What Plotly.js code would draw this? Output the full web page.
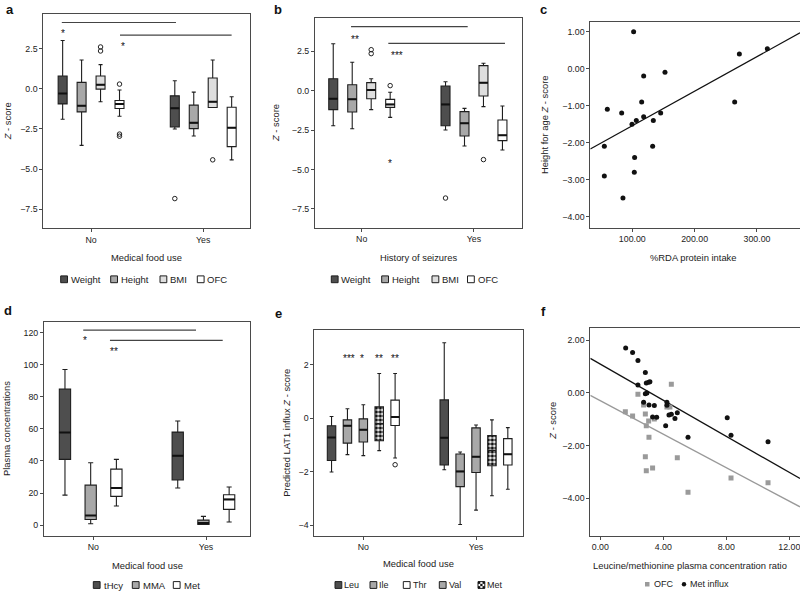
<!DOCTYPE html>
<html><head><meta charset="utf-8">
<script src="https://cdn.plot.ly/plotly-3.0.1.min.js"></script>
<style>html,body{margin:0;padding:0;background:#fff}#chart{width:800px;height:592px}</style>
</head><body><div id="chart"></div>
<script>
// ---------------- DATA ----------------
const groups = ['No', 'Yes'];

// Panel a: Z-scores by medical food use
const aSeries = ['Weight', 'Height', 'BMI', 'OFC'];
const aUpper  = [[3.00, 0.50], [1.79, -0.21], [1.50, 1.79], [-0.08, -0.50]];
const aQ3     = [[0.79, -0.44], [0.40, -1.02], [0.79, 0.67], [-0.73, -1.15]];
const aMedian = [[-0.29, -1.21], [-1.06, -2.12], [0.25, -0.81], [-0.94, -2.42]];
const aQ1     = [[-0.94, -2.38], [-1.44, -2.48], [-0.02, -1.17], [-1.23, -3.60]];
const aLower  = [[-1.90, -2.50], [-3.52, -2.94], [-0.81, -1.17], [-1.71, -4.42]];
const aOutliers = [[2, 0, 2.35], [2, 0, 2.60], [3, 0, 0.29], [3, 0, -2.82], [3, 0, -2.95], [0, 1, -6.83], [2, 1, -4.42]];

// Panel b: Z-scores by history of seizures
const bSeries = ['Weight', 'Height', 'BMI', 'OFC'];
const bUpper  = [[2.98, 0.57], [1.80, -1.12], [0.76, 1.74], [-0.10, -0.97]];
const bQ3     = [[0.76, 0.30], [0.38, -1.33], [0.51, 1.59], [-0.55, -1.86]];
const bMedian = [[-0.51, -0.87], [-0.55, -2.07], [0.04, 0.51], [-0.87, -2.83]];
const bQ1     = [[-1.20, -2.22], [-1.35, -2.87], [-0.51, -0.34], [-1.06, -3.17]];
const bLower  = [[-2.22, -2.49], [-2.41, -3.51], [-1.20, -1.01], [-1.69, -3.76]];
const bOutliers = [[2, 0, 2.35], [2, 0, 2.60], [3, 0, 0.32], [0, 1, -6.81], [2, 1, -4.37]];
const bExtremes = [[3, 0, -4.40]];

// Panel c: %RDA protein intake vs height-for-age Z-score
const cRDA = [102.1, 118.2, 152.4, 271.7, 316.6, 264.2, 115.0, 59.9, 82.9, 145.5, 106.4, 99.5, 118.2, 133.7, 55.1, 132.6, 103.7, 103.2, 55.1, 85.0];
const cHAZ = [1.00, -0.20, -0.10, 0.40, 0.54, -0.90, -0.90, -1.10, -1.20, -1.20, -1.40, -1.50, -1.30, -1.40, -2.10, -2.10, -2.40, -2.80, -2.90, -3.50];

// Panel d: plasma concentrations
const dSeries = ['tHcy', 'MMA', 'Met'];
const dUpper  = [[97.1, 64.9], [38.9, 5.4], [41.0, 23.7]];
const dQ3     = [[84.8, 58.0], [24.9, 3.1], [34.9, 18.9]];
const dMedian = [[57.8, 43.2], [6.0, 1.2], [23.1, 16.0]];
const dQ1     = [[41.0, 28.1], [3.5, 0.4], [17.9, 9.8]];
const dLower  = [[18.7, 23.1], [0.8, 0.4], [11.9, 1.9]];

// Panel e: predicted LAT1 influx Z-score (plot order)
const eSeries = ['Leu', 'Ile', 'Val', 'Met', 'Thr'];
const eLegendOrder = ['Leu', 'Ile', 'Thr', 'Val', 'Met'];
const eUpper  = [[0.07, 2.83], [0.36, -1.26], [0.51, -0.25], [1.68, -0.06], [1.68, -0.35]];
const eQ3     = [[-0.28, 0.69], [-0.06, -1.34], [-0.02, -0.36], [0.43, -0.65], [0.68, -0.76]];
const eMedian = [[-0.72, -0.73], [-0.28, -1.99], [-0.43, -1.44], [-0.20, -1.20], [0.05, -1.35]];
const eQ1     = [[-1.58, -1.75], [-0.93, -2.56], [-0.89, -2.03], [-0.84, -1.78], [-0.27, -1.75]];
const eLower  = [[-2.01, -1.93], [-1.36, -3.98], [-1.40, -3.44], [-1.21, -2.90], [-1.49, -2.66]];
const eOutliers = [[4, 0, -1.74]];

// Panel f: Leu/Met ratio vs Z-score
const fRatioMet = [1.61, 2.05, 2.39, 2.39, 2.86, 2.92, 3.07, 3.15, 2.86, 2.96, 2.75, 3.09, 3.32, 3.43, 3.58, 4.23, 4.23, 4.36, 4.51, 4.15, 4.74, 4.89, 5.57, 8.06, 8.30, 10.65];
const fMetInflux = [1.71, 1.54, 1.23, 0.30, 0.78, 0.38, 0.41, 0.43, -0.03, 0.00, -0.35, -0.46, -0.91, -0.48, -0.92, -0.35, -0.47, -0.84, -0.81, -1.24, -0.97, -0.75, -1.68, -0.94, -1.61, -1.85];
const fRatioOFC = [1.59, 2.05, 2.39, 2.75, 2.86, 2.92, 3.07, 3.09, 2.86, 2.92, 3.32, 3.43, 4.23, 4.42, 4.51, 4.89, 5.57, 8.30, 10.65];
const fOFC = [-0.71, -0.87, -0.05, -0.46, -0.80, -1.24, -1.06, -1.68, -2.42, -2.95, -2.85, -0.99, -0.53, -0.53, 0.33, -2.46, -3.77, -3.23, -3.41];

// Significance brackets [x0, x1, y] and labels [text, x, y]
const aSigLines = [[-0.261, 0.757, 4.12], [0.258, 1.253, 3.33]];
const aSigText  = [['*', -0.25, 3.63], ['*', 0.282, 2.83]];
const bSigLines = [[-0.095, 0.944, 4.06], [0.237, 1.276, 3.00]];
const bSigText  = [['**', -0.06, 3.42], ['***', 0.31, 2.43]];
const dSigLines = [[-0.089, 0.911, 121.6], [0.148, 1.148, 115.2]];
const dSigText  = [['*', -0.074, 116.8], ['**', 0.184, 110.2]];
const eSigText  = [['***', -0.124, 2.34], ['*', -0.009, 2.34], ['**', 0.142, 2.34], ['**', 0.284, 2.34]];

// ---------------- STYLE / LAYOUT HELPERS ----------------
const W = 800, H = 592;
const FONT = '"Liberation Sans", Arial, sans-serif';
const INK = '#222', FRAME = '#4a4a4a';
const DARK = '#4e4e4e', MID = '#a8a8a8', LIGHT = '#dedede', WHITE = '#ffffff';
const px = x => x / W, py = y => 1 - y / H;

const traces = [], shapes = [], annotations = [];

function boxPanel(p) {
  const medX = [], medY = [];
  p.series.forEach((name, i) => {
    const xs = groups.map((g, gi) => gi + p.offsets[i]);
    const pat = p.patterned && p.patterned[i];
    if (pat) {
      traces.push({
        type: 'bar', x: xs, base: p.q1[i], y: p.q3[i].map((v, k) => v - p.q1[i][k]),
        width: p.width, xaxis: p.xa, yaxis: p.ya,
        marker: {color: '#fff', line: {width: 0},
          pattern: {shape: '.', fgcolor: '#111', bgcolor: '#fff', size: 4, solidity: 0.6}},
        showlegend: false, hoverinfo: 'skip'
      });
    } else {
      xs.forEach((x, k) => { medX.push(x - p.width / 2, x + p.width / 2, null); medY.push(p.median[i][k], p.median[i][k], null); });
    }
    traces.push({
      type: 'box', orientation: 'v', name: name, x: xs,
      q1: p.q1[i], median: p.median[i], q3: p.q3[i],
      lowerfence: p.lower[i], upperfence: p.upper[i],
      width: p.width, whiskerwidth: 0.45,
      fillcolor: pat ? 'rgba(0,0,0,0)' : p.colors[i],
      line: {color: '#1e1e1e', width: 1.1},
      boxpoints: false, xaxis: p.xa, yaxis: p.ya, showlegend: false, hoverinfo: 'skip'
    });
  });
  traces.push({type: 'scatter', mode: 'lines', x: medX, y: medY, xaxis: p.xa, yaxis: p.ya,
    line: {color: '#111', width: 2}, showlegend: false, hoverinfo: 'skip'});
  if (p.outliers) {
    traces.push({
      type: 'scatter', mode: 'markers', xaxis: p.xa, yaxis: p.ya,
      x: p.outliers.map(o => o[1] + p.offsets[o[0]]), y: p.outliers.map(o => o[2]),
      marker: {symbol: 'circle-open', size: 4.5, color: '#222', line: {width: 1, color: '#222'}},
      showlegend: false, hoverinfo: 'skip', cliponaxis: false
    });
  }
  if (p.extremes) {
    p.extremes.forEach(o => annotations.push({
      xref: p.xa, yref: p.ya, x: o[1] + p.offsets[o[0]], y: o[2], text: '*', showarrow: false,
      yshift: -3, font: {family: FONT, size: 10, color: '#111'}
    }));
  }
  (p.sigLines || []).forEach(l => shapes.push({
    type: 'line', xref: p.xa, yref: p.ya, x0: l[0], x1: l[1], y0: l[2], y1: l[2],
    line: {color: '#444', width: 1.2}
  }));
  (p.sigText || []).forEach(t => annotations.push({
    xref: p.xa, yref: p.ya, x: t[1], y: t[2], text: t[0], showarrow: false,
    yshift: -3, font: {family: FONT, size: 10, color: '#111'}
  }));
}

const off4 = [-1.5, -0.5, 0.5, 1.5].map(k => k * 0.169);
const off3 = [-1, 0, 1].map(k => k * 0.228 - 0.023);
const off5 = [-2, -1, 0, 1, 2].map(k => k * 0.141);

boxPanel({xa: 'x', ya: 'y', series: aSeries, colors: [DARK, MID, LIGHT, WHITE],
  upper: aUpper, q3: aQ3, median: aMedian, q1: aQ1, lower: aLower,
  offsets: off4, width: 0.08, outliers: aOutliers, sigLines: aSigLines, sigText: aSigText});
boxPanel({xa: 'x2', ya: 'y2', series: bSeries, colors: [DARK, MID, LIGHT, WHITE],
  upper: bUpper, q3: bQ3, median: bMedian, q1: bQ1, lower: bLower,
  offsets: off4, width: 0.08, outliers: bOutliers, extremes: bExtremes, sigLines: bSigLines, sigText: bSigText});
boxPanel({xa: 'x4', ya: 'y4', series: dSeries, colors: [DARK, MID, WHITE],
  upper: dUpper, q3: dQ3, median: dMedian, q1: dQ1, lower: dLower,
  offsets: off3, width: 0.1, sigLines: dSigLines, sigText: dSigText});
boxPanel({xa: 'x5', ya: 'y5', series: eSeries, colors: [DARK, MID, MID, WHITE, WHITE],
  patterned: [false, false, false, true, false],
  upper: eUpper, q3: eQ3, median: eMedian, q1: eQ1, lower: eLower,
  offsets: off5, width: 0.075, outliers: eOutliers, sigText: eSigText});

// least-squares line helper
function ols(xs, ys) {
  const n = xs.length, mx = xs.reduce((a, b) => a + b) / n, my = ys.reduce((a, b) => a + b) / n;
  let sxy = 0, sxx = 0;
  xs.forEach((x, i) => { sxy += (x - mx) * (ys[i] - my); sxx += (x - mx) * (x - mx); });
  const b = sxy / sxx; return {b: b, a: my - b * mx};
}

// Panel c
const cRange = [32.6, 369];
const cFit = ols(cRDA, cHAZ);
traces.push({type: 'scatter', mode: 'lines', x: cRange, y: cRange.map(x => cFit.a + cFit.b * x),
  xaxis: 'x3', yaxis: 'y3', line: {color: '#111', width: 1.2}, showlegend: false, hoverinfo: 'skip'});
traces.push({type: 'scatter', mode: 'markers', x: cRDA, y: cHAZ, xaxis: 'x3', yaxis: 'y3',
  marker: {color: '#111', size: 5}, showlegend: false, hoverinfo: 'skip'});

// Panel f
const fRange = [-0.635, 12.68];
const fFitMet = ols(fRatioMet, fMetInflux), fFitOFC = ols(fRatioOFC, fOFC);
traces.push({type: 'scatter', mode: 'lines', x: fRange, y: fRange.map(x => fFitOFC.a + fFitOFC.b * x),
  xaxis: 'x6', yaxis: 'y6', line: {color: '#999', width: 1.3}, showlegend: false, hoverinfo: 'skip'});
traces.push({type: 'scatter', mode: 'lines', x: fRange, y: fRange.map(x => fFitMet.a + fFitMet.b * x),
  xaxis: 'x6', yaxis: 'y6', line: {color: '#111', width: 1.3}, showlegend: false, hoverinfo: 'skip'});
traces.push({type: 'scatter', mode: 'markers', x: fRatioOFC, y: fOFC, xaxis: 'x6', yaxis: 'y6',
  marker: {color: '#9a9a9a', size: 5, symbol: 'square'}, showlegend: false, hoverinfo: 'skip'});
traces.push({type: 'scatter', mode: 'markers', x: fRatioMet, y: fMetInflux, xaxis: 'x6', yaxis: 'y6',
  marker: {color: '#111', size: 5}, showlegend: false, hoverinfo: 'skip'});

// ---------------- AXES ----------------
function ax(extra) {
  return Object.assign({
    showline: true, mirror: true, linecolor: FRAME, linewidth: 1,
    ticks: 'outside', ticklen: 3, tickwidth: 1, tickcolor: FRAME,
    showgrid: false, zeroline: false, fixedrange: true, ticklabeloverflow: 'allow',
    tickfont: {family: FONT, size: 8.8, color: INK}
  }, extra);
}
const layout = {
  width: W, height: H, margin: {l: 0, r: 0, t: 0, b: 0},
  paper_bgcolor: '#fff', plot_bgcolor: '#fff', showlegend: false,
  font: {family: FONT, color: INK}, boxmode: 'overlay', barmode: 'overlay',
  xaxis:  ax({domain: [px(43.3), px(250)], range: [-0.426, 1.417], tickvals: [0, 1], ticktext: groups, anchor: 'y'}),
  yaxis:  ax({domain: [py(228), py(14)], range: [-8.66, 4.65], tickvals: [2.5, 0, -2.5, -5, -7.5], tickformat: '.1f', anchor: 'x'}),
  xaxis2: ax({domain: [px(315), px(521.7)], range: [-0.416, 1.425], tickvals: [0, 1], ticktext: groups, anchor: 'y2'}),
  yaxis2: ax({domain: [py(227.7), py(18)], range: [-8.69, 4.61], tickvals: [2.5, 0, -2.5, -5, -7.5], tickformat: '.1f', anchor: 'x2'}),
  xaxis3: ax({domain: [px(590.3), 1], range: cRange, tickvals: [100, 200, 300], tickformat: '.2f', anchor: 'y3'}),
  yaxis3: ax({domain: [py(227.7), py(21.7)], range: [-4.30, 1.27], tickvals: [1, 0, -1, -2, -3, -4], tickformat: '.2f', anchor: 'x3'}),
  xaxis4: ax({domain: [px(44), px(250)], range: [-0.437, 1.39], tickvals: [0, 1], ticktext: groups, anchor: 'y4'}),
  yaxis4: ax({domain: [py(535.7), py(321.7)], range: [-6.65, 126.9], tickvals: [0, 20, 40, 60, 80, 100, 120], anchor: 'x4'}),
  xaxis5: ax({domain: [px(314.3), px(522.7)], range: [-0.435, 1.414], tickvals: [0, 1], ticktext: groups, anchor: 'y5'}),
  yaxis5: ax({domain: [py(535.7), py(330)], range: [-4.4, 3.31], tickvals: [-4, -2, 0, 2], anchor: 'x5'}),
  xaxis6: ax({domain: [px(590.3), 1], range: fRange, tickvals: [0, 4, 8, 12], tickformat: '.2f', anchor: 'y6'}),
  yaxis6: ax({domain: [py(535.7), py(328.3)], range: [-5.42, 2.456], tickvals: [2, 0, -2, -4], tickformat: '.2f', anchor: 'x6'}),
  shapes: shapes, annotations: annotations
};

// ---------------- TEXT: panel letters & axis titles ----------------
function ptext(t, x, y, opt) {
  annotations.push(Object.assign({xref: 'paper', yref: 'paper', x: px(x), y: py(y), text: t, showarrow: false,
    xanchor: 'center', yanchor: 'middle', font: {family: FONT, size: 9.4, color: INK}}, opt || {}));
}
[['a', 10, 9], ['b', 278, 9], ['c', 543, 9], ['d', 8, 310], ['e', 278, 313], ['f', 543, 312]].forEach(l =>
  ptext('<b>' + l[0] + '</b>', l[1], l[2], {font: {family: FONT, size: 13, color: '#111'}}));

ptext('Medical food use', 146.7, 257.7);
ptext('History of seizures', 418.3, 258);
ptext('%RDA protein intake', 693.3, 257);
ptext('Medical food use', 147.7, 565);
ptext('Medical food use', 418.3, 563.3);
ptext('Leucine/methionine plasma concentration ratio', 690, 565.7);
ptext('<i>Z</i> - score', 7.3, 121, {textangle: -90});
ptext('<i>Z</i> - score', 275, 123, {textangle: -90});
ptext('Height for age <i>Z</i> - score', 544, 125, {textangle: -90});
ptext('Plasma concentrations', 6, 429, {textangle: -90});
ptext('Predicted LAT1 influx <i>Z</i> - score', 285.7, 433, {textangle: -90});
ptext('<i>Z</i> - score', 551.7, 421, {textangle: -90});

// ---------------- MANUAL LEGENDS ----------------
const SW = 6.8;
function swatch(x, y, s, fill) {
  shapes.push({type: 'rect', xref: 'paper', yref: 'paper', x0: px(x), x1: px(x + s), y0: py(y + s / 2), y1: py(y - s / 2),
    fillcolor: fill, line: {color: '#1e1e1e', width: 1}});
}
function legendRow(names, colors, xs, y, gap, fs) {
  names.forEach((n, i) => {
    if (colors[i] === 'checker') {
      swatch(xs[i], y, SW, '#fff');
      const c = SW / 3;
      for (let r = 0; r < 3; r++) for (let k = 0; k < 3; k++) if ((r + k) % 2 === 0) {
        shapes.push({type: 'rect', xref: 'paper', yref: 'paper', x0: px(xs[i] + k * c), x1: px(xs[i] + (k + 1) * c),
          y0: py(y - SW / 2 + (r + 1) * c), y1: py(y - SW / 2 + r * c), fillcolor: '#111', line: {width: 0}});
      }
    } else swatch(xs[i], y, SW, colors[i]);
    ptext(n, xs[i] + gap, y, {xanchor: 'left', font: {family: FONT, size: fs, color: INK}});
  });
}
legendRow(aSeries, [DARK, MID, LIGHT, WHITE], [60.7, 110.7, 160, 197.3], 279.3, 8, 9.5);
legendRow(bSeries, [DARK, MID, LIGHT, WHITE], [331.3, 381.7, 432, 467.5], 279.3, 8, 9.5);
legendRow(dSeries, [DARK, MID, WHITE], [93.3, 132.3, 173.3], 585, 9, 9.5);
legendRow(eLegendOrder, [DARK, MID, WHITE, MID, 'checker'], [335, 370, 403.3, 439.3, 478], 585, 7.3, 9);
// panel f legend
shapes.push({type: 'rect', xref: 'paper', yref: 'paper', x0: px(645), x1: px(649.5), y0: py(586.5), y1: py(582),
  fillcolor: '#9a9a9a', line: {width: 0}});
ptext('OFC', 651.7, 584.3, {xanchor: 'left', font: {family: FONT, size: 9, color: INK}});
shapes.push({type: 'circle', xref: 'paper', yref: 'paper', x0: px(681.8), x1: px(686.2), y0: py(586.5), y1: py(582.1),
  fillcolor: '#111', line: {width: 0}});
ptext('Met influx', 688.3, 584.3, {xanchor: 'left', font: {family: FONT, size: 9, color: INK}});

Plotly.newPlot('chart', traces, layout, {staticPlot: true, displayModeBar: false});
</script></body></html>
